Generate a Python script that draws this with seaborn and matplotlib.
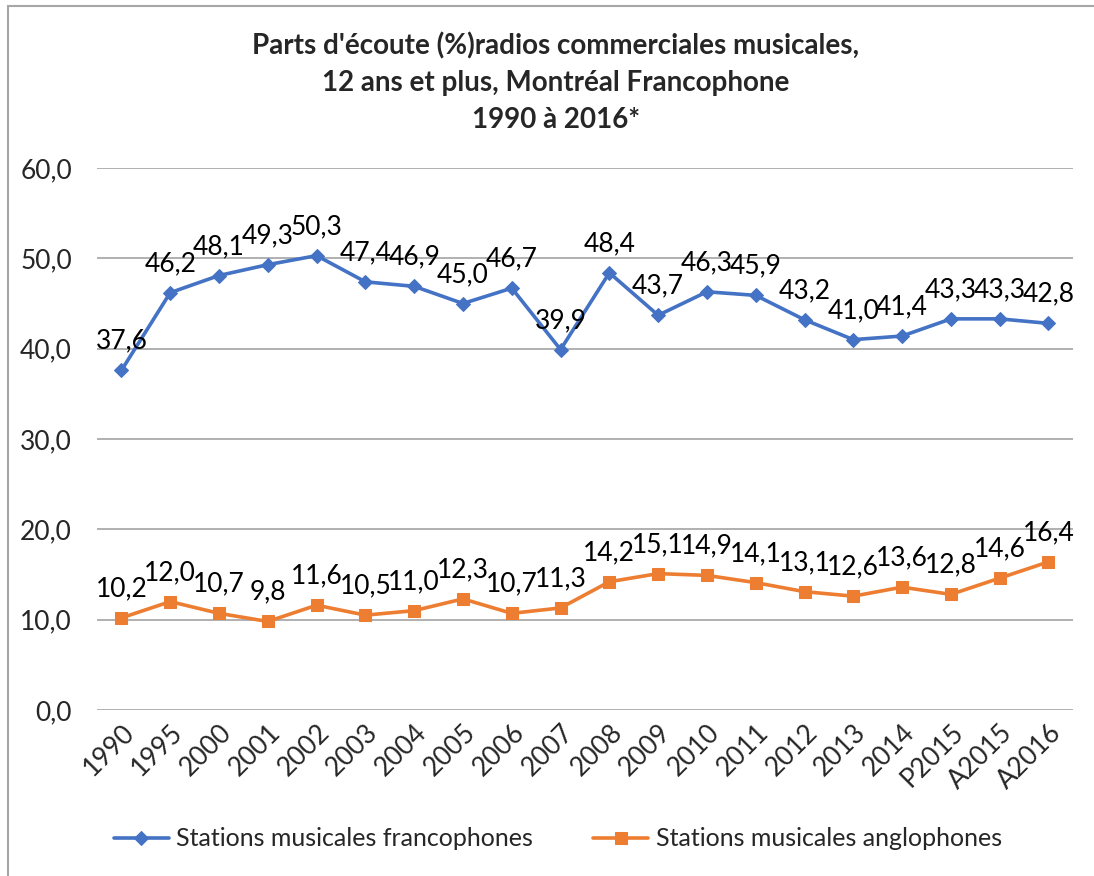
import numpy as np
import pandas as pd
import seaborn as sns
import matplotlib.pyplot as plt
from matplotlib.patches import Rectangle

annees = ["1990", "1995", "2000", "2001", "2002", "2003", "2004", "2005", "2006", "2007",
          "2008", "2009", "2010", "2011", "2012", "2013", "2014", "P2015", "A2015", "A2016"]
francophones = [37.6, 46.2, 48.1, 49.3, 50.3, 47.4, 46.9, 45.0, 46.7, 39.9,
                48.4, 43.7, 46.3, 45.9, 43.2, 41.0, 41.4, 43.3, 43.3, 42.8]
anglophones = [10.2, 12.0, 10.7, 9.8, 11.6, 10.5, 11.0, 12.3, 10.7, 11.3,
               14.2, 15.1, 14.9, 14.1, 13.1, 12.6, 13.6, 12.8, 14.6, 16.4]

nom_fr = "Stations musicales francophones"
nom_en = "Stations musicales anglophones"
bleu = "#4472C4"
orange = "#ED7D31"

df = pd.DataFrame({"annee": annees, nom_fr: francophones, nom_en: anglophones})

sns.set_theme(style="white")
plt.rcParams["font.family"] = ["Lato", "DejaVu Sans"]

fig = plt.figure(figsize=(10.94, 8.76), dpi=100)
ax = fig.add_axes([0.0887, 0.1895, 0.892, 0.6187])

sns.lineplot(data=df, x="annee", y=nom_fr, ax=ax, color=bleu, marker="D", markersize=7.5,
             markeredgecolor=bleu, linewidth=2.6, label=nom_fr, sort=False)
sns.lineplot(data=df, x="annee", y=nom_en, ax=ax, color=orange, marker="s", markersize=8.5,
             markeredgecolor=orange, linewidth=2.6, label=nom_en, sort=False)

def fmt(v):
    return f"{v:.1f}".replace(".", ",")

# etiquettes de donnees au-dessus des points
taille = 19
for i, (a, b) in enumerate(zip(francophones, anglophones)):
    ax.annotate(fmt(a), (i, a), xytext=(0, 21), textcoords="offset points",
                ha="center", va="center", fontsize=taille, color="#000000")
    ax.annotate(fmt(b), (i, b), xytext=(0, 21), textcoords="offset points",
                ha="center", va="center", fontsize=taille, color="#000000")

ax.set_ylim(0, 60)
ax.set_xlim(-0.5, len(annees) - 0.5)
ax.set_yticks(np.arange(0, 61, 10))
ax.set_yticklabels([fmt(v) for v in np.arange(0, 61, 10)], fontsize=taille)
ax.yaxis.grid(True, color="#B0B0B0", linewidth=1.4)
ax.set_axisbelow(True)
ax.set_xticks(range(len(annees)))
ax.set_xticklabels(annees, rotation=45, ha="right", rotation_mode="anchor", fontsize=taille)
ax.tick_params(axis="y", length=0, pad=18)
ax.tick_params(axis="x", length=0, pad=7)
ax.set_xlabel("")
ax.set_ylabel("")
for s in ax.spines.values():
    s.set_visible(False)

fig.suptitle("Parts d'écoute (%)radios commerciales musicales,\n12 ans et plus, Montréal Francophone\n1990 à 2016*",
             x=0.508, y=0.963, fontsize=20, fontweight="bold", linespacing=1.5)

ax.legend(loc="upper center", bbox_to_anchor=(0.472, -0.175), ncol=2, frameon=False,
          fontsize=18, handlelength=2.2, columnspacing=2.4, handletextpad=0.3)

# cadre du graphique
fig.add_artist(Rectangle((8 / 1094, -0.01), 1.0, 1 - 6 / 876 + 0.01,
                         transform=fig.transFigure, fill=False, edgecolor="#A6A6A6", linewidth=1.5))

fig.savefig("out.png", dpi=100)
